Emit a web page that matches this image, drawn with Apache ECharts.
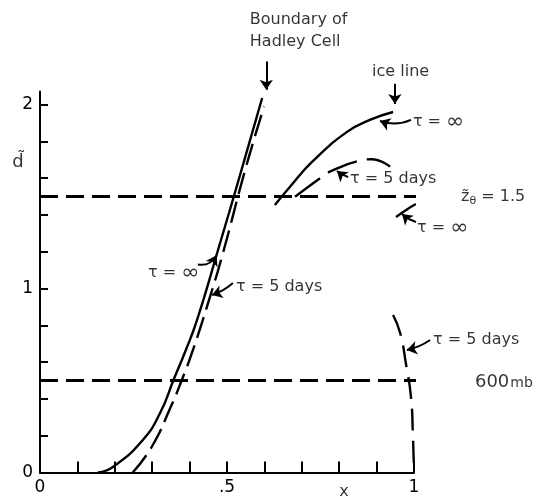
<!DOCTYPE html>
<html>
<head>
<meta charset="utf-8">
<script src="https://cdn.jsdelivr.net/npm/echarts@6/dist/echarts.min.js"></script>
<style>
  html, body { margin: 0; background: #fff; }
  #chart { width: 537px; height: 500px; }
</style>
</head>
<body>
<div id="chart"></div>
<script>
// boundary of the Hadley cell: tau = infinity (solid), tau = 5 days (dashed)
const hadleySolid = [[0.155, 0], [0.195, 0.03], [0.275, 0.177], [0.321, 0.323], [0.358, 0.508], [0.39, 0.666], [0.42, 0.829], [0.476, 1.209], [0.535, 1.617], [0.594, 2.035]];
const hadleyDashed = [[0.248, 0], [0.299, 0.14], [0.348, 0.349], [0.38, 0.507], [0.409, 0.666], [0.452, 0.938], [0.489, 1.191], [0.55, 1.655], [0.599, 1.988]];
// ice line curves
const iceSolid = [[0.628, 1.454], [0.668, 1.552], [0.73, 1.693], [0.821, 1.851], [0.882, 1.916], [0.944, 1.959]];
const iceDashed = [[0.682, 1.499], [0.749, 1.599], [0.775, 1.635], [0.856, 1.695], [0.887, 1.702], [0.936, 1.662]];
const iceSolidLow = [[0.952, 1.389], [0.979, 1.427], [1.005, 1.459]];
const iceDashedLow = [[0.944, 0.856], [0.963, 0.758], [0.979, 0.584], [0.992, 0.41], [0.997, 0.204], [1.0, 0]];
// reference levels (z_theta = 1.5 and 600 mb)
const levels = [1.5, 0.5];
const levelEnds = [1.115, 1.158];
// axis ticks
const xTicks = [0.1, 0.2, 0.3, 0.4, 0.5, 0.6, 0.7, 0.8, 0.9, 1.0];
const xLabels = [0, 0.5, 1];
const yTicks = [0.2, 0.4, 0.6, 0.8, 1.0, 1.2, 1.4, 1.6, 1.8, 2.0];
const yLabels = [0, 1, 2];

// annotations: [text, x, y, align]
const notes = [
  ['{t|Boundary of}\n{t|Hadley Cell}', 0.561, 2.4, 'left'],
  ['{t|ice line}', 0.888, 2.177, 'left'],
  ['{t|τ = }{inf|∞}', 0.997, 1.905, 'left'],
  ['{t|τ = 5 days}', 0.829, 1.595, 'left'],
  ['{t|z\u0303}{sub|θ}{t| = 1.5}', 1.126, 1.497, 'left'],
  ['{t|τ = }{inf|∞}', 1.008, 1.329, 'left'],
  ['{t|τ = }{inf|∞}', 0.289, 1.084, 'left'],
  ['{t|τ = 5 days}', 0.524, 1.008, 'left'],
  ['{t|τ = 5 days}', 1.051, 0.72, 'left'],
  ['{big|600}{small|mb}', 1.163, 0.492, 'left'],
  ['{t|x}', 0.813, -0.106, 'center'],
  ['{big|d\u0303}', -0.059, 1.688, 'center']
];
// arrows: [from, to, curveness]
const arrows = [
  [[0.605, 2.233], [0.605, 2.08], 0],
  [[0.949, 2.112], [0.949, 2.003], 0],
  [[0.992, 1.916], [0.909, 1.91], 0.2],
  [[0.824, 1.606], [0.794, 1.639], 0.1],
  [[1.005, 1.361], [0.968, 1.405], 0.1],
  [[0.422, 1.13], [0.472, 1.18], -0.35],
  [[0.516, 1.03], [0.46, 0.965], 0.1],
  [[1.043, 0.72], [0.981, 0.666], 0.1]
];

const ink = '#000';
const font = 'DejaVu Sans';

const chart = echarts.init(document.getElementById('chart'));

function curve(data, type, width) {
  return {
    type: 'line',
    data: data,
    smooth: 0.5,
    showSymbol: false,
    clip: false,
    silent: true,
    lineStyle: { color: ink, width: width || 2.4, type: type || 'solid' }
  };
}

const series = [
  curve(hadleySolid),
  curve(hadleyDashed, [22, 8]),
  curve(iceSolid),
  curve(iceDashed, [31, 10]),
  curve(iceSolidLow),
  curve(iceDashedLow, [22, 10])
];

levels.forEach((lv, i) => {
  const s = curve([[0, lv], [levelEnds[i], lv]], [18, 8], 3);
  s.smooth = false;
  series.push(s);
});

series.push({
  type: 'lines',
  coordinateSystem: 'cartesian2d',
  clip: false,
  silent: true,
  symbol: ['none', 'arrow'],
  symbolSize: 10,
  lineStyle: { color: ink, width: 2, opacity: 1 },
  data: arrows.map((a) => ({
    coords: [a[0], a[1]],
    lineStyle: { curveness: a[2] }
  }))
});

series.push({
  type: 'scatter',
  symbolSize: 0,
  clip: false,
  silent: true,
  label: {
    show: true,
    position: [0, 0],
    verticalAlign: 'middle',
    color: ink,
    fontFamily: font,
    fontSize: 16,
    rich: {
      t: { fontFamily: font, fontSize: 16, lineHeight: 22, color: ink },
      inf: { fontFamily: font, fontSize: 22, color: ink },
      sub: { fontFamily: font, fontSize: 11, color: ink, padding: [8, 0, 0, 0] },
      big: { fontFamily: font, fontSize: 18, color: ink },
      small: { fontFamily: font, fontSize: 14, color: ink, padding: [3, 0, 0, 1] }
    }
  },
  data: notes.map((n) => ({
    value: [n[1], n[2]],
    label: { formatter: n[0], align: n[3] }
  }))
});

const option = {
  animation: false,
  backgroundColor: '#fff',
  grid: { left: 40, right: 123, top: 91.6, bottom: 27.5 },
  xAxis: {
    type: 'value',
    min: 0,
    max: 1,
    splitLine: { show: false },
    axisLine: { lineStyle: { color: ink, width: 2 } },
    axisTick: { inside: true, length: 11, customValues: xTicks, lineStyle: { color: ink, width: 2 } },
    axisLabel: {
      customValues: xLabels,
      margin: 7,
      fontFamily: font,
      fontSize: 17,
      color: ink,
      formatter: (v) => (v === 0.5 ? '.5' : String(v))
    }
  },
  yAxis: {
    type: 'value',
    min: 0,
    max: 2.07,
    splitLine: { show: false },
    axisLine: { lineStyle: { color: ink, width: 2 } },
    axisTick: { inside: true, length: 8, customValues: yTicks, lineStyle: { color: ink, width: 2 } },
    axisLabel: {
      customValues: yLabels,
      margin: 7,
      fontFamily: font,
      fontSize: 17,
      color: ink
    }
  },
  series: series
};

chart.setOption(option);
</script>
</body>
</html>
